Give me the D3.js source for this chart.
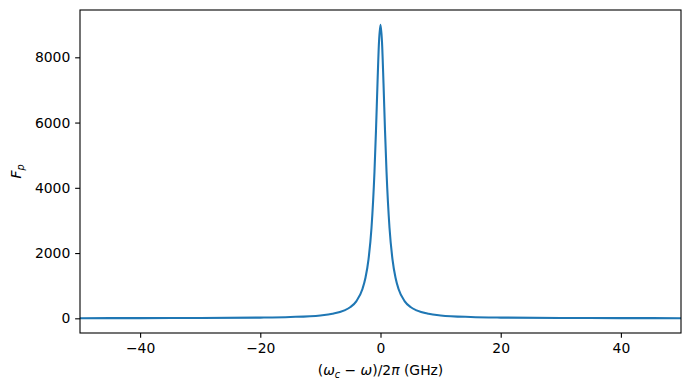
<!DOCTYPE html>
<html>
<head>
<meta charset="utf-8">
<script src="https://cdn.jsdelivr.net/npm/d3@7"></script>
<style>
  body { margin: 0; background: #fff; }
  text { font-family: "DejaVu Sans", sans-serif; }
</style>
</head>
<body>
<div id="graph"></div>
<script>
// Detuning values (GHz)
var detuning = [-50, -40, -30, -20, -15, -10, -8, -6, -5, -4, -3, -2.5, -2, -1.5, -1, -0.75, -0.5, -0.25, 0,
                0.25, 0.5, 0.75, 1, 1.5, 2, 2.5, 3, 4, 5, 6, 8, 10, 15, 20, 30, 40, 50];
// Purcell factor at each detuning
var purcell = [4, 6, 10, 22, 40, 89, 138, 243, 346, 529, 900, 1241, 1800, 2769, 4500, 5760, 7200, 8471, 9000,
               8471, 7200, 5760, 4500, 2769, 1800, 1241, 900, 529, 346, 243, 138, 89, 40, 22, 10, 6, 4];

var xTicks = [-40, -20, 0, 20, 40];
var yTicks = [0, 2000, 4000, 6000, 8000];

// Canvas Info
var CanvasInfo = { width: 690, height: 390 };
var margin = { left: 80, right: 9, top: 10, bottom: 57 };
var fontSize = 13.9;
var tickLen = 4.86;

var width = CanvasInfo.width - margin.left - margin.right;
var height = CanvasInfo.height - margin.top - margin.bottom;

var svg = d3.select("#graph").append("svg")
            .attr("width", CanvasInfo.width)
            .attr("height", CanvasInfo.height);

var g = svg.append("g")
           .attr("transform", "translate(" + margin.left + "," + margin.top + ")");

var x = d3.scaleLinear().domain([-50, 50]).range([0, width]);
var yMax = d3.max(purcell);
var yPad = 0.05 * yMax;
var y = d3.scaleLinear().domain([-yPad, yMax + yPad]).range([height, 0]);

var points = detuning.map(function(d, i) { return [d, purcell[i]]; });

var line = d3.line()
             .x(function(p) { return x(p[0]); })
             .y(function(p) { return y(p[1]); })
             .curve(d3.curveMonotoneX);

g.append("defs").append("clipPath").attr("id", "clip")
 .append("rect").attr("width", width).attr("height", height);

g.append("path")
 .datum(points)
 .attr("clip-path", "url(#clip)")
 .attr("fill", "none")
 .attr("stroke", "#1f77b4")
 .attr("stroke-width", 2.08)
 .attr("stroke-linejoin", "round")
 .attr("d", line);

// Axes
var xAxis = g.append("g")
             .attr("transform", "translate(0," + height + ")")
             .call(d3.axisBottom(x).tickValues(xTicks).tickSize(tickLen).tickPadding(tickLen)
                     .tickFormat(function(d) { return d < 0 ? "\u2212" + Math.abs(d) : d; }));

var yAxis = g.append("g")
             .call(d3.axisLeft(y).tickValues(yTicks).tickSize(tickLen).tickPadding(tickLen)
                     .tickFormat(d3.format("d")));

[xAxis, yAxis].forEach(function(a) {
    a.select(".domain").remove();
    a.selectAll("line").attr("stroke", "#000").attr("stroke-width", 1.1);
    a.selectAll("text").attr("font-size", fontSize).attr("fill", "#000")
     .attr("font-family", "DejaVu Sans, sans-serif");
});

// Frame
g.append("rect")
 .attr("width", width).attr("height", height)
 .attr("fill", "none").attr("stroke", "#000").attr("stroke-width", 1.1);

// X label
var xl = svg.append("text")
            .attr("x", margin.left + width / 2)
            .attr("y", 375)
            .attr("text-anchor", "middle")
            .attr("font-size", fontSize);
xl.append("tspan").text("(");
xl.append("tspan").attr("font-style", "italic").text("\u03c9");
xl.append("tspan").attr("font-style", "italic").attr("font-size", 9.7).attr("dy", 2.5).text("c");
xl.append("tspan").attr("dy", -2.5).text(" \u2212 ");
xl.append("tspan").attr("font-style", "italic").text("\u03c9");
xl.append("tspan").text(")/2");
xl.append("tspan").attr("font-style", "italic").text("\u03c0");
xl.append("tspan").text(" (GHz)");

// Y label
var yl = svg.append("text")
            .attr("transform", "translate(21," + (margin.top + height / 2) + ") rotate(-90)")
            .attr("text-anchor", "middle")
            .attr("font-size", fontSize);
yl.append("tspan").attr("font-style", "italic").text("F");
yl.append("tspan").attr("font-style", "italic").attr("font-size", 9.7).attr("dy", 2.5).text("p");
</script>
</body>
</html>
